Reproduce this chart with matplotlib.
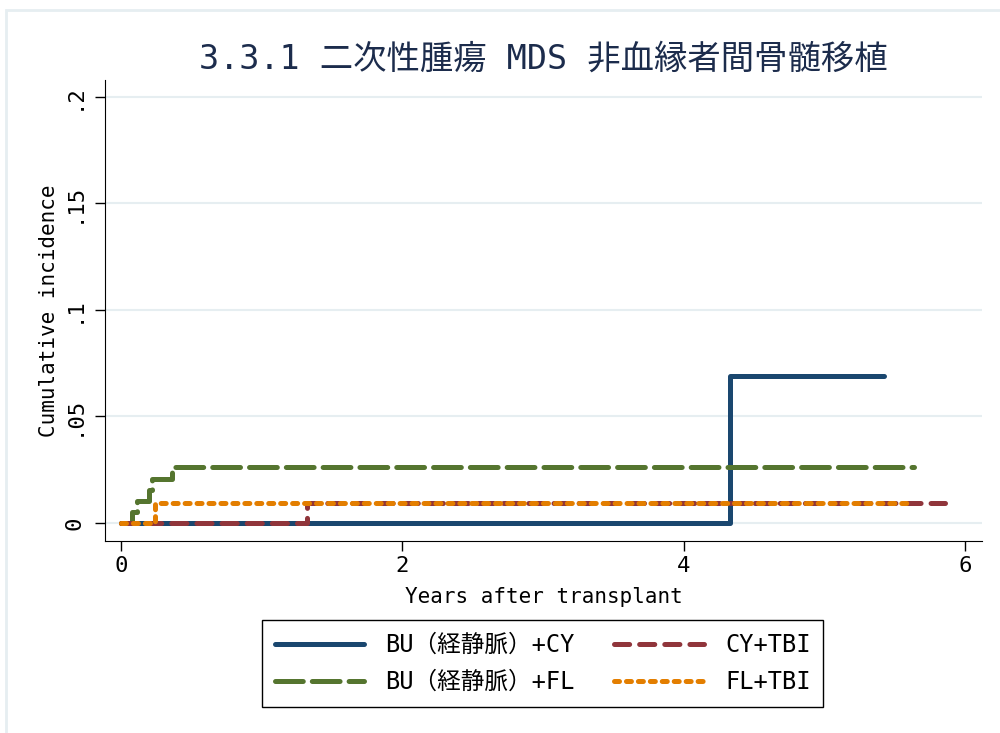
import matplotlib.pyplot as plt
from matplotlib.patches import Rectangle

plt.rcParams["font.family"] = ["DejaVu Sans Mono", "Noto Sans CJK JP"]
plt.rcParams["lines.scale_dashes"] = False

# step data (years, cumulative incidence)
bu_cy_t = [0, 4.33, 5.42]
bu_cy_v = [0, 0.069, 0.069]

bu_fl_t = [0, 0.08, 0.11, 0.2, 0.22, 0.36, 5.64]
bu_fl_v = [0, 0.0052, 0.0104, 0.0156, 0.0208, 0.026, 0.026]

cy_tbi_t = [0, 1.32, 5.86]
cy_tbi_v = [0, 0.0094, 0.0094]

fl_tbi_t = [0, 0.24, 5.62]
fl_tbi_v = [0, 0.0094, 0.0094]

labels = ["BU（経静脈）+CY", "BU（経静脈）+FL", "CY+TBI", "FL+TBI"]
colors = ["#1a476f", "#55752f", "#90353b", "#e37e00"]

x_ticks = [0, 2, 4, 6]
y_ticks = [0, 0.05, 0.1, 0.15, 0.2]
y_ticklabels = ["0", ".05", ".1", ".15", ".2"]

fig = plt.figure(figsize=(10, 7.33), dpi=100)
ax = fig.add_axes([0.105, 0.262, 0.877, 0.629])

lw = 3.6
ax.step(bu_cy_t, bu_cy_v, where="post", color=colors[0], lw=lw,
        solid_capstyle="round", solid_joinstyle="round", label=labels[0])
ax.step(bu_fl_t, bu_fl_v, where="post", color=colors[1], lw=lw,
        dashes=(20, 6.5), dash_capstyle="round", label=labels[1])
ax.step(cy_tbi_t, cy_tbi_v, where="post", color=colors[2], lw=lw,
        dashes=(10.9, 7.2), dash_capstyle="round", label=labels[2])
ax.step(fl_tbi_t, fl_tbi_v, where="post", color=colors[3], lw=lw,
        dashes=(3.6, 5), dash_capstyle="round", label=labels[3])

ax.set_xlim(-0.114, 6.12)
ax.set_ylim(-0.0085, 0.208)
ax.set_xticks(x_ticks)
ax.set_yticks(y_ticks)
ax.set_yticklabels(y_ticklabels, rotation=90, va="center")
ax.tick_params(labelsize=16, length=7, width=1, color="black")
ax.tick_params(axis="y", pad=8)
ax.grid(axis="y", color="#e6eef1", lw=1.5)
ax.set_axisbelow(True)
for s in ["top", "right"]:
    ax.spines[s].set_visible(False)

ax.set_xlabel("Years after transplant", fontsize=15, labelpad=8)
ax.set_ylabel("Cumulative incidence", fontsize=15, labelpad=4)
ax.set_title("3.3.1 二次性腫瘍 MDS 非血縁者間骨髄移植", fontsize=24,
             color="#1c2c4c", pad=8)

leg = fig.legend(loc="center", bbox_to_anchor=(0.5425, 0.095), ncol=2,
                 fontsize=17, handlelength=3.8, handletextpad=0.9,
                 columnspacing=1.65, labelspacing=0.55, fancybox=False,
                 edgecolor="black", framealpha=1, borderpad=0.55)
leg.get_frame().set_linewidth(1)

# light outer frame of the graph region
fig.add_artist(Rectangle((0.006, -0.1), 1.2, 1.086, transform=fig.transFigure,
                         fill=False, edgecolor="#e6eef1", lw=2))

plt.savefig("out.png")
